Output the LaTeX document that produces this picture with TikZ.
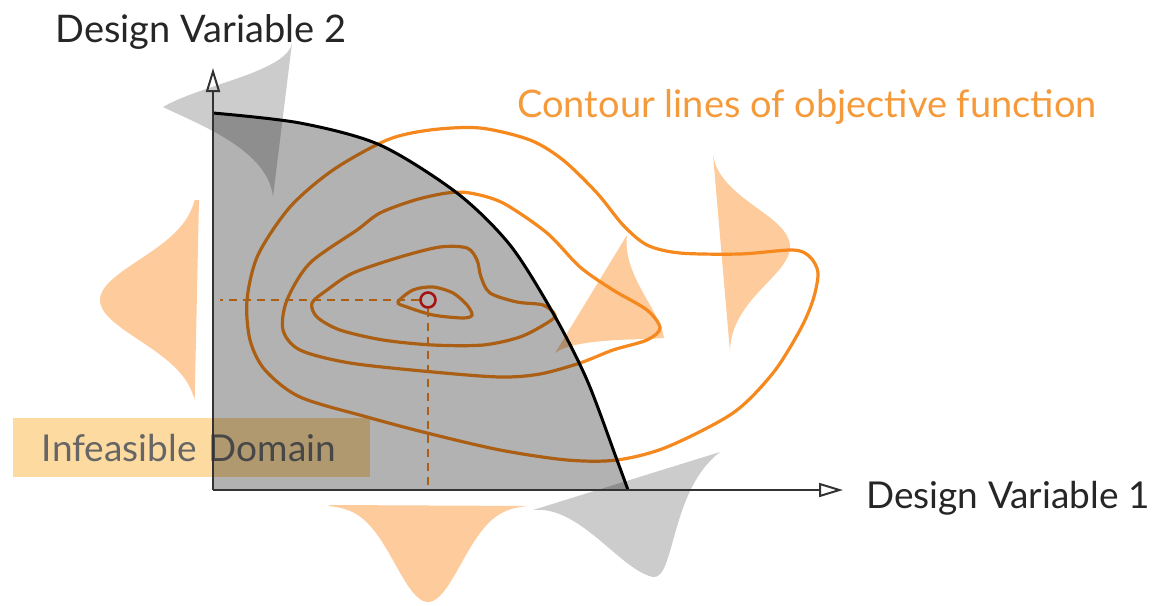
\documentclass[tikz,border=0pt]{standalone}
\usepackage{fontspec}
\setmainfont{Lato}
\usepackage{tikz}
\usetikzlibrary{arrows.meta}
\definecolor{contour}{HTML}{F5891E}
\definecolor{peach}{HTML}{FDCB9C}
\definecolor{lblorange}{HTML}{F59A3A}
\definecolor{boxorange}{HTML}{FDDAA0}
\definecolor{axisgray}{HTML}{333333}
\definecolor{optred}{HTML}{F01E1E}

\begin{document}
\begin{tikzpicture}[x=0.5pt, y=-0.5pt,
    lbl/.style={anchor=base west, inner sep=0pt, font=\fontsize{19}{23}\selectfont},
    axis/.style={draw=axisgray, line width=1pt, -{Triangle[open, length=12pt, width=7pt]}},
    cline/.style={draw=contour, line width=1.6pt},
    guide/.style={draw=contour, line width=1pt, dash pattern=on 4pt off 3pt},
    pdforange/.style={fill=peach},
    pdfgray/.style={fill=black, fill opacity=0.2},
    infeasible/.style={fill=black, fill opacity=0.3}
]
\useasboundingbox (0,0) rectangle (1159,605);

% Axes
\coordinate (O) at (213,490);
\coordinate (xend) at (843,490);
\coordinate (yend) at (213,68);

% Distributions behind
\fill[pdforange] (199,200) -- plot[domain=-100:100, samples=60] ({199-99*exp(-(\x*\x)/3200)}, {300+\x}) -- cycle;
\fill[pdforange] (330,505) -- plot[domain=-100:100, samples=60] ({428+\x}, {505+97*exp(-(\x*\x)/2178)}) -- cycle;
\fill[pdforange] (627,235) -- (555,353) .. controls (575,338) and (640,340) .. (664,338) .. controls (660,310) and (622,275) .. (627,235) -- cycle;
\fill[pdforange] (713,155) .. controls (720,200) and (790,215) .. (790,247) .. controls (790,275) and (730,300) .. (730,352) -- cycle;

% Infeasible label
\node[anchor=north west, fill=boxorange, minimum height=29.5pt, inner xsep=14.25pt, inner ysep=0pt,
      text width=150pt, align=left, text=black!60, font=\fontsize{18.5}{22}\selectfont] (infeas) at (13,418) {Infeasible Domain};

% Contour lines
\draw[cline] plot[smooth cycle] coordinates {(398,302) (413,290) (433,287) (453,293) (467,305) (472,315) (463,318) (433,315) (407,307)};
\draw[cline] plot[smooth cycle] coordinates {(312,303) (327,290) (353,273) (400,257) (440,247) (467,248) (477,260) (481,277) (490,293) (517,302) (543,305) (555,315) (547,323) (520,337) (483,345) (433,345) (383,340) (340,330) (317,317)};
\draw[cline] plot[smooth cycle] coordinates {(357,230) (380,213) (415,200) (447,193) (470,193) (503,203) (547,233) (580,267) (613,290) (647,310) (660,328) (647,340) (613,350) (580,363) (540,374) (500,377) (433,372) (350,363) (300,350) (283,330) (287,300) (310,263)};
\draw[cline] plot[smooth cycle] coordinates {(430,130) (387,140) (333,170) (290,207) (258,255) (247,300) (250,340) (265,370) (300,397) (367,417) (427,433) (500,450) (567,460) (617,460) (667,447) (733,413) (773,373) (800,330) (813,300) (818,273) (810,257) (793,250) (740,254) (680,253) (647,245) (623,225) (597,193) (563,160) (530,140) (480,128)};

% Optimum
\node[draw=optred, circle, line width=1.3pt, minimum size=7.5pt, inner sep=0pt] (opt) at (428,300) {};
\coordinate (yfoot) at (220,300);
\coordinate (xfoot) at (428,487);
\draw[guide] (opt) -- (yfoot);
\draw[guide] (opt) -- (xfoot);

% Feasible domain
\fill[infeasible] (O) -- plot[smooth] coordinates {(213,113) (300,123) (380,145) (457,193) (510,245) (553,313) (587,380) (617,460) (628,490)} -- cycle;
\draw[black, line width=1.5pt] plot[smooth] coordinates {(213,113) (300,123) (380,145) (457,193) (510,245) (553,313) (587,380) (617,460) (628,490)};

% Distributions in front
\fill[pdfgray] (292,43) .. controls (287,72) and (200,85) .. (163,107) .. controls (200,125) and (268,150) .. (273,197) -- cycle;
\fill[pdfgray] (533,510) .. controls (580,505) and (620,570) .. (653,577) .. controls (675,580) and (670,490) .. (720,452) -- cycle;

\draw[axis] (O) -- (xend);
\draw[axis] (O) -- (yend);

% Labels
\node[lbl, text=black!85] (dv2) at (55,42) {Design Variable 2};
\node[lbl, text=black!85, font=\fontsize{18.5}{22}\selectfont] (dv1) at (866,508) {Design Variable 1};
\node[lbl, text=lblorange] (contlbl) at (517,117) {Contour lines of objective function};

\end{tikzpicture}
\end{document}
